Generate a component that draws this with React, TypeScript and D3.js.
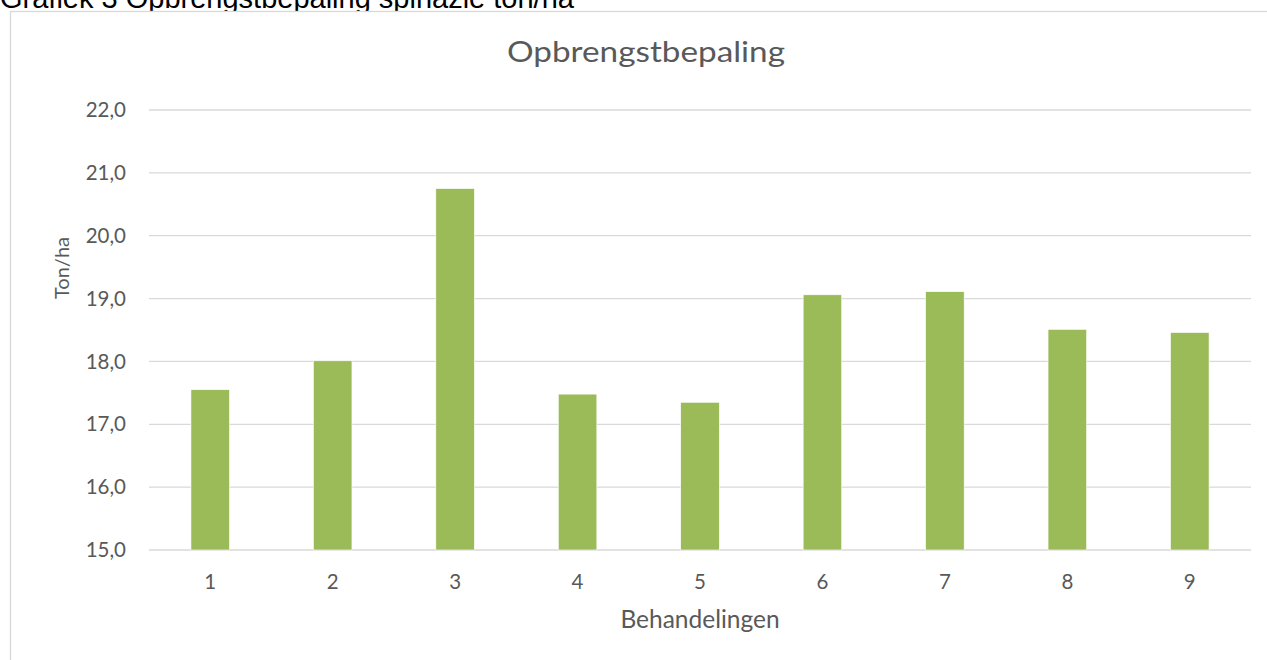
import React from "react";
import * as d3 from "d3";

const categories = ["1", "2", "3", "4", "5", "6", "7", "8", "9"];
const values = [17.55, 18.01, 20.75, 17.48, 17.35, 19.06, 19.11, 18.51, 18.46];
const yTicks = [15, 16, 17, 18, 19, 20, 21, 22];

const W = 1267;
const H = 660;
const plot = { left: 149, right: 1251, top: 110, bottom: 550 };
const FONT = "Lato, 'Open Sans', sans-serif";

export default function App() {
  const x = d3
    .scaleBand<string>()
    .domain(categories)
    .range([plot.left, plot.right])
    .paddingInner(0.685)
    .paddingOuter(0.3425);
  const y = d3.scaleLinear().domain([15, 22]).range([plot.bottom, plot.top]);
  const fmt = (v: number) => d3.format(".1f")(v).replace(".", ",");

  return (
    <svg
      width={W}
      height={H}
      style={{ position: "absolute", left: 0, top: 0, background: "#fff" }}
    >
      <rect x={0} y={0} width={W} height={H} fill="#fff" />
      <text
        x={0}
        y={8}
        fontFamily="'Liberation Sans', Arial, sans-serif"
        fontSize={29}
        fill="#000"
      >
        Grafiek 3 Opbrengstbepaling spinazie ton/ha
      </text>
      <rect x={0} y={11} width={W} height={H} fill="#fff" />
      <rect
        x={10.5}
        y={11.5}
        width={1300}
        height={700}
        fill="none"
        stroke="#D9D9D9"
        strokeWidth={1.3}
      />
      <text
        x={646}
        y={62}
        textAnchor="middle"
        fontFamily={FONT}
        fontSize={29.5}
        fill="#595959"
        textLength={278}
        lengthAdjust="spacingAndGlyphs"
      >
        Opbrengstbepaling
      </text>
      {yTicks.map((t) => (
        <g key={t}>
          <line
            x1={plot.left}
            x2={plot.right}
            y1={y(t)}
            y2={y(t)}
            stroke="#D9D9D9"
            strokeWidth={1.3}
          />
          <text
            x={126}
            y={y(t)}
            dy="0.35em"
            textAnchor="end"
            fontFamily={FONT}
            fontSize={20.5}
            fill="#595959"
          >
            {fmt(t)}
          </text>
        </g>
      ))}
      {categories.map((c, i) => (
        <g key={c}>
          <rect
            x={x(c)!}
            y={y(values[i])}
            width={x.bandwidth()}
            height={y(15) - y(values[i])}
            fill="#9BBB59"
            stroke="#fff"
            strokeWidth={0.6}
          />
          <text
            x={x(c)! + x.bandwidth() / 2}
            y={589}
            textAnchor="middle"
            fontFamily={FONT}
            fontSize={20.5}
            fill="#595959"
          >
            {c}
          </text>
        </g>
      ))}
      <text
        x={(plot.left + plot.right) / 2}
        y={628}
        textAnchor="middle"
        fontFamily={FONT}
        fontSize={24.5}
        fill="#595959"
      >
        Behandelingen
      </text>
      <text
        transform={`translate(69, 268) rotate(-90)`}
        textAnchor="middle"
        fontFamily={FONT}
        fontSize={20}
        fill="#595959"
      >
        Ton/ha
      </text>
    </svg>
  );
}
